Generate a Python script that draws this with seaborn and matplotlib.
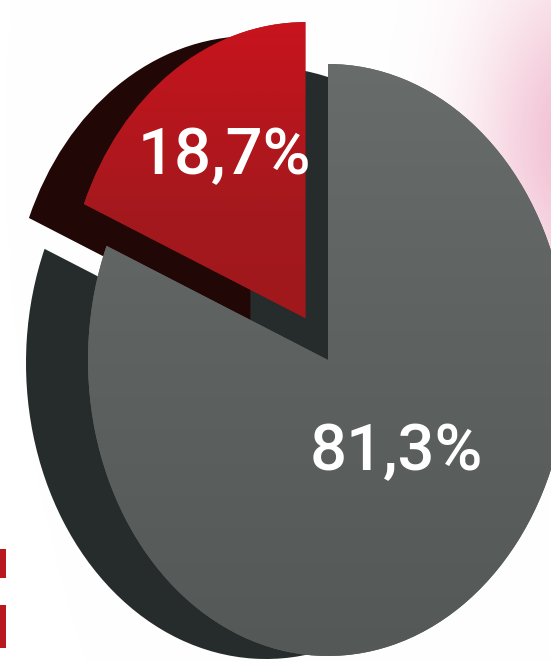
import matplotlib
matplotlib.use("Agg")
import matplotlib.pyplot as plt
from matplotlib.colors import LinearSegmentedColormap
import numpy as np
import seaborn as sns

sns.set_style("white")

# shares of the two slices (percent)
slice_names = ["rojo", "gris"]
shares = [18.7, 81.3]
explode = [0.17, 0.0]

top_colors = ["#9c171c", "#5f6463"]
side_colors = ["#220707", "#262b2b"]

W, H = 551, 662
# pie ellipse in pixel terms: centre and half axes
cx, cy, sx, sy = 328, 360, 240, 296


def px(x, y):
    # pixel position -> data units of the pie
    return ((x - cx) / sx, (cy - y) / sy)


fig = plt.figure(figsize=(W / 100, H / 100), dpi=100)
ax = fig.add_axes([0, 0, 1, 1])
xlim = (-cx / sx, (W - cx) / sx)
ylim = (-(H - cy) / sy, cy / sy)
ext = [xlim[0], xlim[1], ylim[0], ylim[1]]

# background: white paper, pink blur top right, red scrap bottom left
yy, xx = np.mgrid[0:H, 0:W]
bg = np.ones((H, W, 3))
pink = np.exp(-(((xx - 575) / 95.0) ** 2 + ((yy - 140) / 170.0) ** 2))
for i, c in enumerate([0.95, 0.76, 0.83]):
    bg[..., i] = 1 - (1 - c) * pink
scrap = (xx < 6) & (((yy > 548) & (yy < 578)) | ((yy > 604) & (yy < 648)))
bg[scrap] = [0.72, 0.10, 0.12]
ax.imshow(bg, extent=ext, origin="upper", aspect="auto", zorder=0)

# cut face of the grey slice, seen under the lifted red slice
cut_face, _ = ax.pie(shares, explode=explode, startangle=90, counterclock=True,
                     colors=[side_colors[1], "none"], center=(-15 / sx, -25 / sy),
                     wedgeprops=dict(linewidth=0))
for w in cut_face:
    w.set_zorder(1.5)

# side (depth) of each slice, shifted down-left
gray_side, _ = ax.pie(shares, explode=explode, startangle=90, counterclock=True,
                      colors=["none", side_colors[1]], center=(-62 / sx, -3 / sy),
                      wedgeprops=dict(linewidth=0))
red_side, _ = ax.pie(shares, explode=explode, startangle=90, counterclock=True,
                     colors=[side_colors[0], "none"], center=(-55 / sx, -14 / sy),
                     wedgeprops=dict(linewidth=0))
for w in gray_side + red_side:
    w.set_zorder(2)

# top faces
wedges, _, autotexts = ax.pie(shares, explode=explode, startangle=90, counterclock=True,
                              colors=top_colors,
                              autopct=lambda p: f"{p:.1f}".replace(".", ",") + "%",
                              wedgeprops=dict(linewidth=0),
                              textprops=dict(color="white", fontsize=47,
                                             fontweight="medium",
                                             family=["Roboto", "DejaVu Sans"]))
for w in wedges:
    w.set_zorder(3)

# light shading on the top faces
grad = np.linspace(0, 1, 256).reshape(-1, 1)
shades = [LinearSegmentedColormap.from_list("r", ["#8e1418", "#9e181c", "#a3191d", "#cc131d"]),
          LinearSegmentedColormap.from_list("g", ["#545958", "#5e6362", "#6a6f6e"])]
for w, cm in zip(wedges, shades):
    im = ax.imshow(grad, extent=ext, origin="lower", aspect="auto", cmap=cm, zorder=3.5)
    im.set_clip_path(w)

autotexts[0].set_position(px(224, 156))
autotexts[1].set_position(px(396, 452))
for t in autotexts:
    t.set_zorder(5)
    t.set_va("center")
    t.set_ha("center")

ax.set_xlim(*xlim)
ax.set_ylim(*ylim)
ax.set_aspect("auto")
ax.axis("off")

fig.savefig("out.png", dpi=100)
